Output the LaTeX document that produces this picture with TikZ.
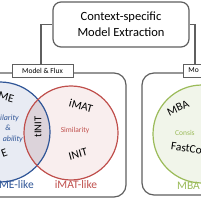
\documentclass[tikz,border=0pt]{standalone}
\usepackage{fontspec}
\setmainfont{Carlito}
\definecolor{gline}{HTML}{5F5F5F}
\definecolor{cblue}{HTML}{2F5597}
\definecolor{fblue}{HTML}{E8EBF3}
\definecolor{cred}{HTML}{C0504D}
\definecolor{fred}{HTML}{F9EEEE}
\definecolor{fmix}{HTML}{DCD3DA}
\definecolor{cgreen}{HTML}{9BBB59}
\definecolor{fgreen}{HTML}{F1F5EA}
\tikzset{
  grp/.style={draw=gline,line width=1.2pt,rounded corners=12pt},
  conn/.style={draw=gline,line width=1.1pt},
  lab/.style={draw=gline,fill=white,line width=0.9pt,inner sep=0pt,minimum height=13pt,font=\fontsize{7.5}{8}\selectfont},
  big/.style={font=\fontsize{11.5}{12}\selectfont,inner sep=0pt},
  alg/.style={font=\fontsize{11.5}{12}\selectfont,inner sep=0pt},
  sm/.style={font=\fontsize{7.5}{8}\selectfont,inner sep=0pt},
}
\begin{document}
\begin{tikzpicture}[x=1pt,y=-1pt]
\useasboundingbox (0,0) rectangle (200,200);
% group boxes
\draw[grp,fill=white] (-20,73) rectangle (126,197);
\draw[grp,fill=white] (142,73) rectangle (240,195);
% circles
\fill[fblue] (0,132) circle (50);
\fill[fred] (71,133) circle (47);
\begin{scope}
  \clip (0,132) circle (50);
  \fill[fmix] (71,133) circle (47);
\end{scope}
\draw[cblue,line width=1.2pt] (0,132) circle (50);
\draw[cred,line width=1.2pt] (71,133) circle (47);
\draw[cgreen,line width=1.2pt,fill=fgreen] (202,134) circle (49);
% top box
\node[draw=gline,line width=1.2pt,rounded corners=8pt,fill=white,minimum width=136pt,minimum height=45pt,align=center,font=\fontsize{12.5}{16}\selectfont,inner sep=0pt] (top) at (121,24.5) {Context-specific\\Model Extraction};
% labels
\node[lab,minimum width=61pt] (lm) at (42.5,70.5) {Model \& Flux};
\node[lab,minimum width=30pt,anchor=west,text width=26pt,align=left] (rm) at (183,70.5) {\hspace*{3pt}Mo};
\coordinate (lc) at (41,24.5);
\coordinate (rc) at (195,24.5);
\draw[conn] (top.west) -- (lc) -- (lc |- lm.north);
\draw[conn] (top.east) -- (rc) -- (rc |- rm.north);
% left circle texts
\node[alg,anchor=east,rotate=-15] (me) at (14,99) {ME};
\node[sm,anchor=east,cblue,font=\fontsize{8}{9}\selectfont\itshape] (sim1) at (19,118) {ilarity};
\node[sm,cblue,font=\fontsize{8}{9}\selectfont\itshape] (amp) at (8,128) {\&};
\node[sm,anchor=east,cblue,font=\fontsize{8}{9}\selectfont\itshape] (abl) at (23,139) {ability};
\node[alg,anchor=east,rotate=20] (e2) at (7,152) {E};
\node[alg,rotate=90,font=\fontsize{10.5}{11}\selectfont] (tinit) at (38,127) {tINIT};
% red circle texts
\node[alg,rotate=-15] (imat) at (81,106) {iMAT};
\node[sm,cred] (sim2) at (75,131) {Similarity};
\node[alg,rotate=15] (init) at (78,154) {INIT};
% green texts
\node[alg,rotate=25] (mba) at (178,108) {MBA};
\node[sm,cgreen,anchor=west] (cons) at (175,133) {Consis};
\node[alg,rotate=-8,anchor=west] (fast) at (171,146) {FastCo};
% bottom labels
\node[big,cblue,anchor=east] (gl) at (34,185) {ME-like};
\node[big,cred] (il) at (76,185) {iMAT-like};
\node[big,cgreen,anchor=west] (ml) at (177,186) {MBA};
\end{tikzpicture}
\end{document}
